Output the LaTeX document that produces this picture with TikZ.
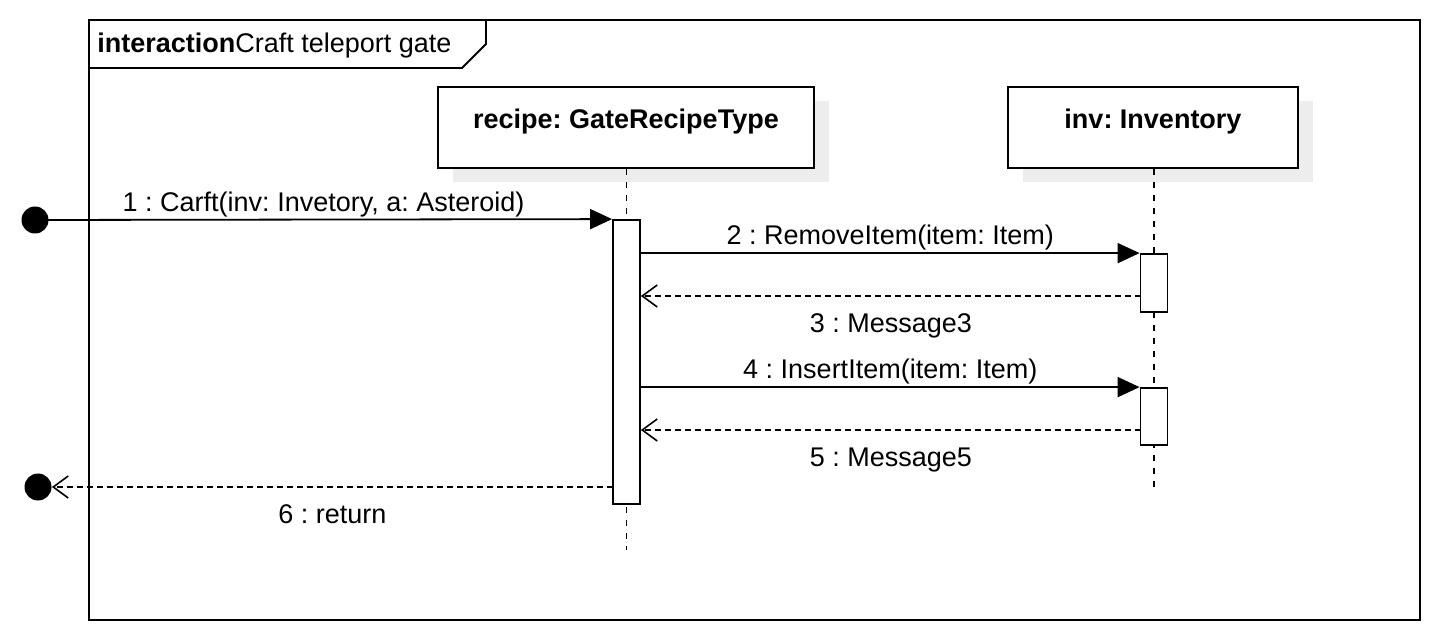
\documentclass[tikz,border=0pt]{standalone}
\usepackage{fontspec}
\setmainfont{Liberation Sans}
\frenchspacing
\usetikzlibrary{arrows.meta,shadows}
\tikzset{
    framebox/.style={
        draw=black,
        line width=0.9pt
    },
    lifehead/.style={
        draw=black,
        fill=white,
        line width=0.9pt,
        minimum height=40.5pt,
        inner sep=0pt,
        text height=10pt,
        text depth=9pt,
        font=\fontsize{13.5}{16}\selectfont\bfseries,
        drop shadow={shadow xshift=7.5pt, shadow yshift=-7pt, fill=black!7, opacity=1}
    },
    lifeline/.style={
        draw=black,
        line width=0.9pt,
        dash pattern=on 3pt off 3.5pt
    },
    activation/.style={
        draw=black,
        fill=white,
        line width=0.9pt,
        minimum width=13.5pt,
        inner sep=0pt
    },
    gatepoint/.style={
        circle,
        fill=black,
        minimum size=13.5pt,
        inner sep=0pt
    },
    callarrow/.style={
        -{Triangle[length=11pt,width=10pt]},
        draw=black,
        line width=0.9pt
    },
    replyarrow/.style={
        -{Straight Barb[length=7.5pt,width=11pt,line width=0.8pt]},
        draw=black,
        line width=0.9pt,
        dash pattern=on 3pt off 2pt
    }
}

\begin{document}
\begin{tikzpicture}[x=0.5pt,y=-0.5pt,font=\fontsize{13.5}{16}\selectfont]
        \useasboundingbox (0,0) rectangle (1442,642);

        % frame
        \draw[framebox] (89,20) rectangle (1420,620);
        \draw[framebox] (89,68) -- (462,68) -- (486,44) -- (486,20);
        \node[anchor=west,inner sep=0pt] (frametitle) at (97,46)
            {\textbf{interaction}Craft teleport gate};

        % lifelines
        \node[lifehead, minimum width=188pt] (recipe) at (626,127.5)
            {recipe: GateRecipeType};
        \node[lifehead, minimum width=145pt] (inv) at (1153,127.5)
            {inv: Inventory};
        \coordinate (recipeend) at (626.5,550);
        \coordinate (invend) at (1154,490);
        \draw[lifeline] (recipe.south -| recipeend) -- (recipeend);
        \draw[lifeline] (inv.south -| invend) -- (invend);

        % activations
        \node[activation, minimum height=142pt] (recipeact) at (626.5,362) {};
        \node[activation, minimum height=29pt] (invact1) at (1154,283) {};
        \node[activation, minimum height=28.5pt] (invact2) at (1154,416.5) {};

        \node[gatepoint] (found) at (35,220) {};
        \node[gatepoint] (lost) at (38,487) {};
        \coordinate (reply3) at (1141,296);
        \coordinate (reply5) at (1141,430);
        \coordinate (reply6) at (613,487);

        % messages
        \draw[callarrow] (found.center) -- (recipeact.north west)
            node[midway, above=-2.5pt] {1 : Carft(inv: Invetory, a: Asteroid)};
        \draw[callarrow] (recipeact.east |- invact1.north) -- (invact1.north west)
            node[midway, above=-2.5pt] {2 : RemoveItem(item: Item)};
        \draw[replyarrow] (reply3) -- (reply3 -| recipeact.east)
            node[midway, below=5pt] {3 : Message3};
        \draw[callarrow] (recipeact.east |- invact2.north) -- (invact2.north west)
            node[midway, above=-2.5pt] {4 : InsertItem(item: Item)};
        \draw[replyarrow] (reply5) -- (reply5 -| recipeact.east)
            node[midway, below=5pt] {5 : Message5};
        \draw[replyarrow] (reply6) -- (lost.east)
            node[midway, below=5pt] {6 : return};
    \end{tikzpicture}
\end{document}
